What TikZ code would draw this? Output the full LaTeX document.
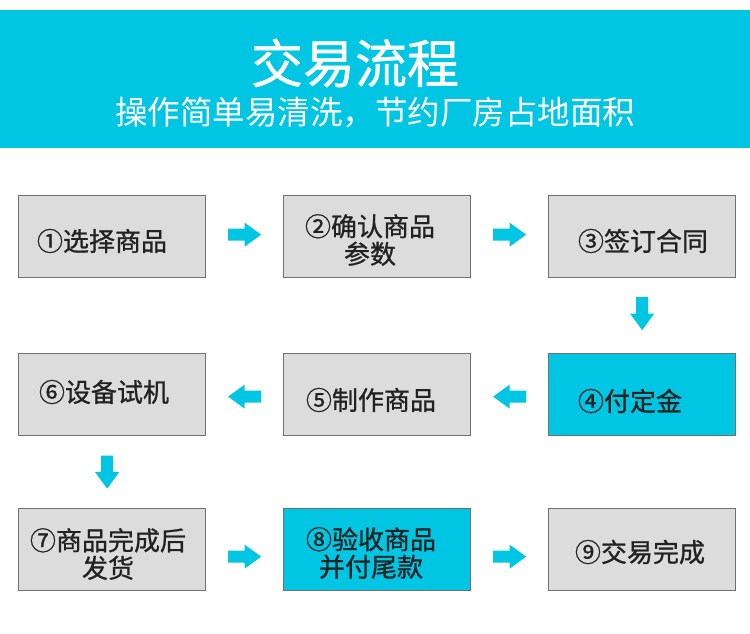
\documentclass[tikz,border=0pt]{standalone}
\usepackage{fontspec}
\usetikzlibrary{calc}
\setmainfont{Noto Sans CJK SC}
\newfontfamily\cjk{Noto Sans CJK SC}
\newfontfamily\cjkm{Noto Sans CJK SC}[FakeBold=0.9]
\definecolor{brand}{HTML}{00C5E3}
\definecolor{boxgray}{HTML}{DCDCDC}
\definecolor{edgegray}{HTML}{707070}
\definecolor{ink}{HTML}{222222}
\begin{document}
\begin{tikzpicture}[x=1pt,y=-1pt,
  stepbox/.style={draw=edgegray,line width=1.3pt,fill=boxgray,minimum width=187pt,minimum height=82pt,inner sep=0pt,anchor=north west},
  hotbox/.style={stepbox,fill=brand},
  lbl/.style={text=ink,font=\cjkm\fontsize{26}{27.5}\selectfont,align=center,inner sep=0pt},
  barrow/.pic={\fill[brand] (-16.5,-6) -- (0,-6) -- (0,-12) -- (16.5,0) -- (0,12) -- (0,6) -- (-16.5,6) -- cycle;}
]
\useasboundingbox (0,0) rectangle (750,634);
\fill[white] (0,0) rectangle (750,634);
\fill[brand] (0,10) rectangle (750,148);
\node[text=white,font=\cjkm\fontsize{52}{56}\selectfont,inner sep=0pt] (title) at (355,63) {交易流程};
\node[text=white,font=\cjk\fontsize{32.5}{36}\selectfont,inner sep=0pt] (sub) at (375,113) {操作简单易清洗，节约厂房占地面积};

% boxes
\node[stepbox] (b1) at (18,195) {};
\node[stepbox] (b2) at (283,195) {};
\node[stepbox] (b3) at (548,195) {};
\node[hotbox]  (b4) at (548,353) {};
\node[stepbox] (b5) at (283,353) {};
\node[stepbox] (b6) at (18,353) {};
\node[stepbox] (b7) at (18,508) {};
\node[hotbox]  (b8) at (283,508) {};
\node[stepbox] (b9) at (548,508) {};

% labels
\node[lbl] (t1) at (102,241) {①选择商品};
\node[lbl] (t2) at (370,240) {②确认商品\\参数};
\node[lbl] (t3) at (643,241) {③签订合同};
\node[lbl] (t4) at (630,401) {④付定金};
\node[lbl] (t5) at (371,400) {⑤制作商品};
\node[lbl] (t6) at (104,392) {⑥设备试机};
\node[lbl] (t7) at (108,554) {⑦商品完成后\\发货};
\node[lbl] (t8) at (371,553) {⑧验收商品\\并付尾款};
\node[lbl] (t9) at (640,552) {⑨交易完成};

% block arrows
\pic at ($(b1.east)!0.5!(b2.west)+(0,-2)$) {barrow};
\pic at ($(b2.east)!0.5!(b3.west)+(0,-2)$) {barrow};
\pic[rotate=-90] at ($(b3.south)!0.5!(b4.north)+(0,-2)$) {barrow};
\pic[rotate=180] at ($(b4.west)!0.5!(b5.east)+(0,2)$) {barrow};
\pic[rotate=180] at ($(b5.west)!0.5!(b6.east)+(0,2)$) {barrow};
\pic[rotate=-90] at ($(b6.south)!0.5!(b7.north)+(-5,0)$) {barrow};
\pic at ($(b7.east)!0.5!(b8.west)+(0,7)$) {barrow};
\pic at ($(b8.east)!0.5!(b9.west)+(0,7)$) {barrow};
\end{tikzpicture}
\end{document}
